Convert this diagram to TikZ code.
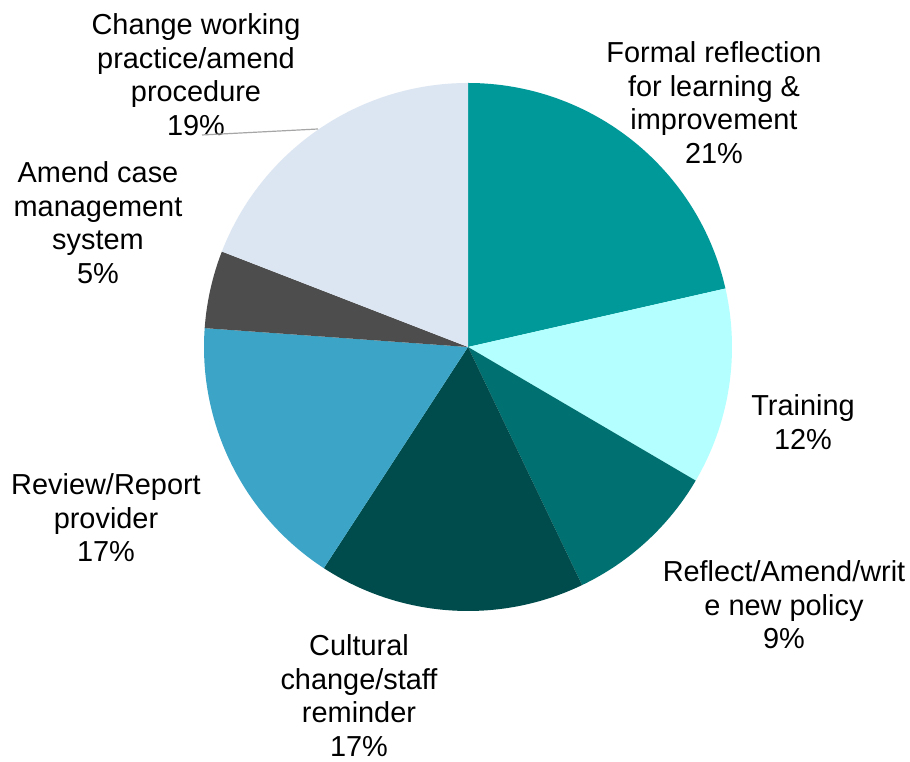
\documentclass[tikz,border=0pt]{standalone}
\usepackage{fontspec}
\setmainfont{Liberation Sans}
\definecolor{cFormal}{RGB}{0,153,153}
\definecolor{cTrain}{RGB}{180,255,255}
\definecolor{cReflect}{RGB}{0,112,112}
\definecolor{cCult}{RGB}{0,75,75}
\definecolor{cReview}{RGB}{60,165,199}
\definecolor{cAmend}{RGB}{77,77,77}
\definecolor{cChange}{RGB}{220,230,242}
\definecolor{cLead}{RGB}{166,166,166}
\newcommand{\lbl}[1]{\setlength{\tabcolsep}{0pt}\begin{tabular}[t]{c}#1\end{tabular}}
\begin{document}
\begin{tikzpicture}[x=1pt,y=1pt,
  labelstyle/.style={anchor=base,inner sep=0pt,font=\fontsize{28.9}{33.5}\selectfont},
  leaderstyle/.style={draw=cLead,line width=1.2pt}]
\useasboundingbox (0,0) rectangle (910,762);
\fill[white] (0,0) rectangle (910,762);
\coordinate (c) at (468,415);
\def\R{264}
\fill[cFormal] (c) -- ++(12.8:\R) arc[start angle=12.8,end angle=90,radius=\R] -- cycle;
\fill[cTrain] (c) -- ++(-30.4:\R) arc[start angle=-30.4,end angle=12.8,radius=\R] -- cycle;
\fill[cReflect] (c) -- ++(-64.4:\R) arc[start angle=-64.4,end angle=-30.4,radius=\R] -- cycle;
\fill[cCult] (c) -- ++(-123.1:\R) arc[start angle=-123.1,end angle=-64.4,radius=\R] -- cycle;
\fill[cReview] (c) -- ++(175.9:\R) arc[start angle=175.9,end angle=236.9,radius=\R] -- cycle;
\fill[cAmend] (c) -- ++(158.8:\R) arc[start angle=158.8,end angle=175.9,radius=\R] -- cycle;
\fill[cChange] (c) -- ++(90:\R) arc[start angle=90,end angle=158.8,radius=\R] -- cycle;

\node[labelstyle] (lChange) at (196,727) {\lbl{Change working\\practice/amend\\procedure\\19\%}};
\node[labelstyle] (lFormal) at (714,699) {\lbl{Formal reflection\\for learning \&\\improvement\\21\%}};
\node[labelstyle] (lTrain) at (803,346) {\lbl{Training\\12\%}};
\node[labelstyle] (lReflect) at (784,180) {\lbl{Reflect/Amend/writ\\e new policy\\9\%}};
\node[labelstyle] (lCult) at (359,106) {\lbl{Cultural\\change/staff\\reminder\\17\%}};
\node[labelstyle] (lReview) at (106,267) {\lbl{Review/Report\\provider\\17\%}};
\node[labelstyle] (lAmend) at (98,579) {\lbl{Amend case\\management\\system\\5\%}};

\coordinate (leadA) at (318,633);
\coordinate (leadB) at (202,627);
\draw[leaderstyle] (leadA) -- (leadB);
\end{tikzpicture}
\end{document}
